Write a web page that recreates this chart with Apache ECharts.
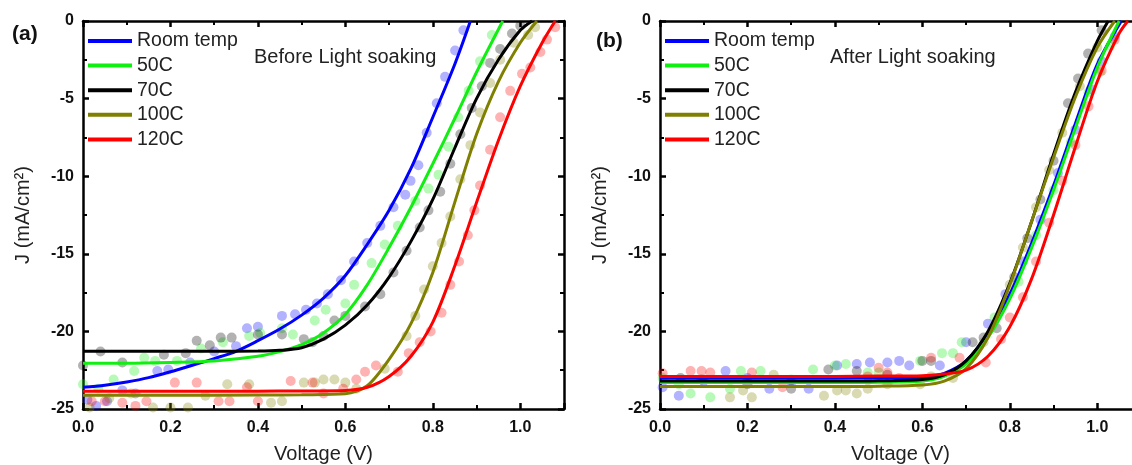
<!DOCTYPE html>
<html>
<head>
<meta charset="utf-8">
<script src="https://cdn.jsdelivr.net/npm/echarts@6/dist/echarts.min.js"></script>
<style>
html,body{margin:0;padding:0;background:#fff;}
#chart{width:1132px;height:465px;}
</style>
</head>
<body>
<div id="chart"></div>
<script>
// ---------- DATA ----------
const seriesNames = ["Room temp", "50C", "70C", "100C", "120C"];
const panelTitles = ["Before Light soaking", "After Light soaking"];
const panelLabels = ["(a)", "(b)"];
const xTickLabels = ["0.0", "0.2", "0.4", "0.6", "0.8", "1.0"];
const yTickLabels = ["-25", "-20", "-15", "-10", "-5", "0"];

// Panel (a): before light soaking — fitted curves [V, J]
const fitBeforeRoom = [[0,-23.6],[0.05,-23.47],[0.1,-23.26],[0.15,-22.98],[0.2,-22.6],[0.25,-22.18],[0.3,-21.75],[0.35,-21.28],[0.4,-20.6],[0.45,-19.85],[0.5,-18.95],[0.55,-17.85],[0.6,-16.4],[0.65,-14.4],[0.7,-12.2],[0.75,-9.5],[0.8,-6.2],[0.85,-2.8],[0.886,0]];
const fitBefore50 = [[0,-22.05],[0.1,-22.05],[0.2,-22.0],[0.3,-21.9],[0.4,-21.6],[0.45,-21.3],[0.5,-20.85],[0.55,-20.1],[0.6,-18.9],[0.65,-17.0],[0.7,-14.6],[0.75,-12.0],[0.8,-9.2],[0.85,-6.3],[0.9,-3.3],[0.96,0]];
const fitBefore70 = [[0,-21.28],[0.1,-21.28],[0.2,-21.28],[0.3,-21.28],[0.4,-21.27],[0.45,-21.22],[0.5,-21.05],[0.55,-20.5],[0.6,-19.6],[0.65,-18.3],[0.7,-16.5],[0.75,-14.2],[0.8,-11.5],[0.85,-8.2],[0.9,-5.0],[0.95,-2.5],[1.0,-0.6],[1.027,0]];
const fitBefore100 = [[0,-24.12],[0.2,-24.12],[0.4,-24.1],[0.5,-24.08],[0.6,-24.02],[0.65,-23.5],[0.7,-21.8],[0.75,-19.5],[0.8,-16.2],[0.85,-11.7],[0.9,-7.3],[0.95,-3.9],[1.0,-1.4],[1.038,0]];
const fitBefore120 = [[0,-23.86],[0.2,-23.86],[0.4,-23.85],[0.6,-23.8],[0.65,-23.6],[0.7,-22.9],[0.75,-21.6],[0.8,-19.4],[0.85,-15.8],[0.9,-11.7],[0.95,-7.7],[1.0,-4.2],[1.05,-1.4],[1.08,0]];

// Panel (a): measured points [V, J]
const ptsBeforeRoom = [[0.01,-24.4],[0.03,-24.8],[0.055,-24.5],[0.09,-23.8],[0.12,-24.0],[0.17,-22.55],[0.195,-22.45],[0.245,-22.0],[0.3,-21.3],[0.35,-20.95],[0.375,-19.8],[0.4,-19.7],[0.455,-19.0],[0.485,-18.9],[0.51,-18.6],[0.535,-18.2],[0.56,-17.6],[0.59,-16.7],[0.62,-15.5],[0.65,-14.3],[0.68,-13.2],[0.71,-12.0],[0.737,-11.2],[0.749,-10.3],[0.767,-9.3],[0.786,-7.2],[0.809,-5.3],[0.828,-3.6],[0.851,-1.9],[0.87,-0.6]];
const ptsBefore50 = [[0,-23.4],[0.035,-23.7],[0.07,-23.1],[0.117,-22.55],[0.14,-21.7],[0.165,-21.9],[0.215,-21.9],[0.27,-21.1],[0.32,-20.7],[0.38,-20.3],[0.405,-20.1],[0.455,-19.8],[0.48,-20.2],[0.53,-19.3],[0.555,-18.6],[0.6,-18.2],[0.62,-17.0],[0.66,-15.6],[0.69,-14.4],[0.72,-13.2],[0.76,-11.6],[0.79,-10.8],[0.813,-9.9],[0.836,-8.1],[0.858,-6.2],[0.882,-4.5],[0.908,-2.6],[0.935,-0.9]];
const ptsBefore70 = [[0,-22.2],[0.04,-21.3],[0.09,-22.0],[0.185,-21.5],[0.235,-21.4],[0.26,-20.6],[0.29,-20.9],[0.315,-20.4],[0.34,-20.4],[0.4,-20.2],[0.455,-20.2],[0.505,-20.5],[0.525,-20.7],[0.55,-20.3],[0.575,-19.3],[0.6,-19.0],[0.645,-18.4],[0.68,-17.6],[0.71,-16.2],[0.74,-14.8],[0.77,-13.3],[0.79,-12.2],[0.817,-11.0],[0.84,-9.2],[0.863,-7.3],[0.889,-5.6],[0.912,-4.2],[0.931,-2.7],[0.954,-1.8],[0.981,-0.8],[1.0,-0.3]];
const ptsBefore100 = [[0.015,-24.9],[0.06,-24.3],[0.11,-24.0],[0.16,-24.9],[0.2,-24.9],[0.24,-24.9],[0.28,-24.15],[0.33,-23.4],[0.38,-23.4],[0.43,-24.6],[0.455,-24.5],[0.505,-23.3],[0.53,-23.3],[0.55,-23.1],[0.575,-23.1],[0.6,-23.3],[0.625,-23.7],[0.69,-22.4],[0.74,-20.3],[0.76,-19.0],[0.78,-17.3],[0.8,-15.8],[0.82,-14.3],[0.84,-12.6],[0.863,-10.2],[0.886,-8.0],[0.908,-5.9],[0.931,-4.0],[0.954,-2.5],[0.985,-1.4],[1.018,-0.9],[1.034,-0.4]];
const ptsBefore120 = [[0.02,-24.5],[0.05,-24.5],[0.09,-24.6],[0.12,-24.8],[0.145,-24.5],[0.21,-23.3],[0.26,-23.3],[0.31,-24.5],[0.335,-24.5],[0.375,-23.6],[0.4,-24.5],[0.475,-23.2],[0.525,-23.3],[0.55,-24.0],[0.595,-23.7],[0.625,-23.1],[0.645,-22.6],[0.67,-22.2],[0.72,-22.6],[0.745,-21.4],[0.77,-20.7],[0.795,-20.0],[0.82,-18.8],[0.84,-17.0],[0.86,-15.5],[0.88,-13.8],[0.895,-12.2],[0.908,-10.6],[0.931,-8.3],[0.954,-6.2],[0.977,-4.5],[1.004,-3.4],[1.023,-3.0],[1.046,-2.0],[1.061,-1.2],[1.08,-0.4]];

// Panel (b): after light soaking — fitted curves [V, J]
const fitAfterRoom = [[0,-23.0],[0.2,-23.0],[0.4,-23.0],[0.5,-22.98],[0.6,-22.95],[0.65,-22.7],[0.7,-21.9],[0.75,-20.1],[0.8,-17.6],[0.85,-14.3],[0.9,-10.6],[0.95,-6.6],[1.0,-2.8],[1.055,0]];
const fitAfter50 = [[0,-23.3],[0.2,-23.3],[0.4,-23.3],[0.5,-23.28],[0.6,-23.2],[0.65,-22.9],[0.7,-22.1],[0.75,-20.4],[0.8,-17.9],[0.85,-14.6],[0.9,-10.9],[0.95,-6.9],[1.0,-3.0],[1.05,0]];
const fitAfter70 = [[0,-23.2],[0.2,-23.2],[0.4,-23.2],[0.5,-23.18],[0.6,-23.1],[0.65,-22.8],[0.7,-21.9],[0.75,-20.0],[0.8,-16.9],[0.85,-12.9],[0.9,-8.6],[0.95,-4.6],[1.0,-1.3],[1.025,0]];
const fitAfter100 = [[0,-23.55],[0.2,-23.55],[0.4,-23.55],[0.5,-23.53],[0.6,-23.45],[0.65,-23.2],[0.7,-22.4],[0.75,-20.4],[0.8,-17.0],[0.85,-12.9],[0.9,-8.8],[0.95,-4.9],[1.0,-1.7],[1.04,0]];
const fitAfter120 = [[0,-22.9],[0.2,-22.9],[0.4,-22.9],[0.5,-22.88],[0.6,-22.85],[0.65,-22.75],[0.7,-22.5],[0.75,-21.6],[0.8,-19.7],[0.85,-16.6],[0.9,-12.5],[0.95,-8.1],[1.0,-3.9],[1.05,-0.8],[1.07,0]];

// Panel (b): measured points [V, J]
const ptsAfterRoom = [[0.006,-23.6],[0.043,-24.15],[0.1,-23.2],[0.15,-22.55],[0.2,-23.0],[0.25,-23.7],[0.3,-23.3],[0.34,-23.7],[0.405,-22.2],[0.45,-22.1],[0.48,-22.0],[0.52,-22.0],[0.547,-21.9],[0.57,-22.2],[0.64,-22.2],[0.7,-20.7],[0.75,-19.5],[0.79,-17.6],[0.83,-15.5],[0.87,-12.8],[0.91,-9.8],[0.95,-7.0],[0.985,-4.4],[1.01,-2.6],[1.04,-1.0]];
const ptsAfter50 = [[0.006,-23.0],[0.043,-23.4],[0.07,-24.0],[0.115,-24.25],[0.16,-23.7],[0.185,-22.55],[0.23,-22.55],[0.3,-23.1],[0.35,-22.45],[0.4,-22.2],[0.425,-22.1],[0.475,-22.65],[0.5,-22.65],[0.595,-21.9],[0.645,-21.4],[0.67,-21.4],[0.69,-20.7],[0.765,-19.1],[0.82,-16.8],[0.86,-13.8],[0.9,-10.9],[0.94,-7.8],[0.98,-4.6],[1.006,-3.3],[1.03,-1.6]];
const ptsAfter70 = [[0.047,-23.0],[0.095,-23.1],[0.2,-23.4],[0.3,-23.7],[0.385,-22.45],[0.45,-22.55],[0.52,-22.8],[0.6,-21.9],[0.62,-21.9],[0.715,-20.7],[0.74,-20.4],[0.77,-19.8],[0.81,-16.5],[0.84,-14.0],[0.87,-11.5],[0.9,-9.0],[0.933,-5.3],[0.956,-3.7],[0.979,-2.1],[1.01,-0.6]];
const ptsAfter100 = [[0.16,-24.25],[0.19,-23.8],[0.21,-24.25],[0.26,-22.8],[0.375,-24.15],[0.405,-23.8],[0.425,-23.8],[0.45,-24.0],[0.475,-23.7],[0.52,-23.4],[0.595,-23.4],[0.62,-22.9],[0.67,-23.0],[0.74,-20.7],[0.8,-17.0],[0.83,-14.6],[0.86,-12.0],[0.89,-9.6],[0.92,-7.2],[0.96,-4.2],[1.0,-1.7]];
const ptsAfter120 = [[0.006,-22.7],[0.07,-22.55],[0.095,-22.55],[0.115,-22.65],[0.21,-22.65],[0.28,-23.6],[0.475,-22.9],[0.5,-22.35],[0.52,-22.65],[0.547,-23.0],[0.62,-21.7],[0.685,-21.7],[0.745,-22.0],[0.78,-20.5],[0.8,-19.1],[0.83,-17.8],[0.86,-15.5],[0.89,-13.0],[0.92,-10.3],[0.95,-8.0],[0.98,-5.5],[1.01,-3.2],[1.04,-1.2]];

// ---------- STYLE / LAYOUT ----------
const colors = ["#0000ff", "#11ee11", "#000000", "#808000", "#ff0000"];
const FONT = "'Liberation Sans', Arial, sans-serif";
const panels = [
  { fits: [fitBeforeRoom, fitBefore50, fitBefore70, fitBefore100, fitBefore120],
    pts:  [ptsBeforeRoom, ptsBefore50, ptsBefore70, ptsBefore100, ptsBefore120],
    left: 83 },
  { fits: [fitAfterRoom, fitAfter50, fitAfter70, fitAfter100, fitAfter120],
    pts:  [ptsAfterRoom, ptsAfter50, ptsAfter70, ptsAfter100, ptsAfter120],
    left: 660 }
];

const grids = [], xAxes = [], yAxes = [], series = [], legends = [], graphics = [];
const lineStyle = { color: "#000", width: 2.5 };
const tickStyle = { color: "#000", width: 2.5 };
const minorStyle = { color: "#000", width: 2 };

panels.forEach((p, gi) => {
  grids.push({ left: p.left, top: 21, width: 481, height: 388, outerBoundsMode: "none", containLabel: false });
  const xBase = {
    gridIndex: gi, type: "value", min: 0, max: 1.1, interval: 0.2,
    axisLine: { onZero: false, lineStyle },
    axisTick: { inside: true, length: 6, lineStyle: tickStyle },
    minorTick: { show: true, splitNumber: 2, length: 4, lineStyle: minorStyle },
    splitLine: { show: false }, minorSplitLine: { show: false }
  };
  xAxes.push(Object.assign({}, xBase, {
    position: "bottom",
    axisLabel: {
      show: true, showMaxLabel: false, margin: 11, color: "#111",
      fontFamily: FONT, fontWeight: "bold", fontSize: 16,
      formatter: v => { const s = v.toFixed(1); return xTickLabels.includes(s) ? s : ""; }
    },
    name: "Voltage (V)", nameLocation: "middle", nameGap: 35,
    nameTextStyle: { fontFamily: FONT, fontSize: 20, color: "#222" }
  }));
  xAxes.push(Object.assign({}, xBase, { position: "top", axisLabel: { show: false } }));
  const yBase = {
    gridIndex: gi, type: "value", min: -25, max: 0, interval: 5,
    axisLine: { onZero: false, lineStyle },
    axisTick: { inside: true, length: 6, lineStyle: tickStyle },
    minorTick: { show: true, splitNumber: 2, length: 4, lineStyle: minorStyle },
    splitLine: { show: false }, minorSplitLine: { show: false }
  };
  yAxes.push(Object.assign({}, yBase, {
    position: "left",
    axisLabel: {
      margin: 9, color: "#111", fontFamily: FONT, fontWeight: "bold", fontSize: 16,
      formatter: v => { const s = String(Math.round(v)); return yTickLabels.includes(s) ? s : ""; }
    },
    name: "J (mA/cm\u00B2)", nameLocation: "middle", nameGap: 50, nameRotate: 90,
    nameTextStyle: { fontFamily: FONT, fontSize: 20, color: "#222" }
  }));
  yAxes.push(Object.assign({}, yBase, { position: "right", axisLabel: { show: false } }));

  // measured points (drawn first, underneath)
  p.pts.forEach((d, si) => {
    series.push({
      type: "scatter", name: seriesNames[si] + " data", xAxisIndex: gi * 2, yAxisIndex: gi * 2,
      data: d, symbol: "circle", symbolSize: 10,
      itemStyle: { color: colors[si], opacity: 0.3 }, silent: true, z: 2
    });
  });
  // fitted curves
  p.fits.forEach((d, si) => {
    series.push({
      type: "line", name: seriesNames[si], xAxisIndex: gi * 2, yAxisIndex: gi * 2,
      data: d, showSymbol: false, smooth: 0.3,
      lineStyle: { color: colors[si], width: 3 }, itemStyle: { color: colors[si] },
      silent: true, z: 3
    });
  });

  legends.push({
    left: p.left + 5, top: 31, orient: "vertical", padding: 0,
    itemWidth: 44, itemHeight: 4, itemGap: 4.6, icon: "rect",
    data: seriesNames,
    textStyle: { fontFamily: FONT, fontSize: 19.5, color: "#222", lineHeight: 20 },
    selectedMode: false
  });
  graphics.push({
    type: "text", left: gi === 0 ? 254 : 830, top: 47,
    style: { text: panelTitles[gi], font: "20px " + FONT, fill: "#222" }
  });
  graphics.push({
    type: "text", left: gi === 0 ? 12 : 596, top: gi === 0 ? 24 : 31,
    style: { text: panelLabels[gi], font: "bold 21px " + FONT, fill: "#111" }
  });
});

const chart = echarts.init(document.getElementById("chart"), null, { renderer: "canvas" });
chart.setOption({
  animation: false,
  backgroundColor: "#ffffff",
  grid: grids, xAxis: xAxes, yAxis: yAxes,
  legend: legends, series: series, graphic: graphics
});
</script>
</body>
</html>
